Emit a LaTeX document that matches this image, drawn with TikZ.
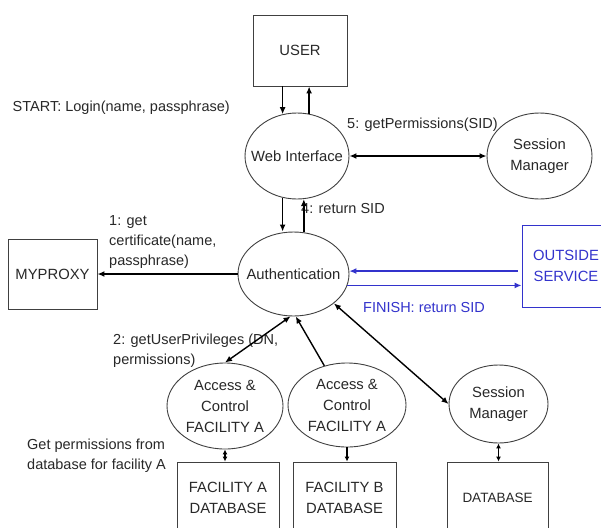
\documentclass[tikz,border=0pt]{standalone}
\usepackage{fontspec}
\setmainfont{Liberation Sans}
\usetikzlibrary{arrows.meta,shapes.geometric}
\definecolor{svcblue}{RGB}{51,51,204}
\definecolor{inkgray}{RGB}{40,40,40}
\begin{document}
\begin{tikzpicture}[x=1pt,y=-1pt,
  every node/.style={font=\fontsize{14.8}{21}\selectfont, text=inkgray},
  box/.style={draw=black!75, line width=0.9pt, rectangle, inner sep=0pt, align=center},
  ell/.style={draw=black!75, line width=0.9pt, ellipse, inner sep=0pt},
  txt/.style={inner sep=0pt, align=left, font=\fontsize{14.5}{20}\selectfont},
  ctext/.style={inner sep=0pt, align=center},
  arr/.style={-{Latex[length=7pt,width=6pt]}, line width=1.4pt},
  sarr/.style={-{Latex[length=5pt,width=5pt]}, line width=1.4pt},
  darr/.style={{Latex[length=7pt,width=6pt]}-{Latex[length=7pt,width=6pt]}, line width=1.4pt},
  sdarr/.style={{Latex[length=5pt,width=5pt]}-{Latex[length=5pt,width=5pt]}, line width=1.4pt},
  barr/.style={-{Latex[length=7pt,width=6pt]}, line width=1.4pt, draw=svcblue},
]
\clip (0,0) rectangle (601,527);
\fill[white] (0,0) rectangle (601,527);

% shapes
\node[box, minimum width=94pt, minimum height=71pt] (user) at (300,50.5) {USER};
\node[ell, minimum width=104pt, minimum height=86pt, label={[ctext]center:Web Interface}] (web) at (297,156) {};
\node[ell, minimum width=105pt, minimum height=86pt, label={[ctext]center:{Session\\Manager}}] (sm1) at (539.5,156) {};
\node[ell, minimum width=111pt, minimum height=84pt, label={[ctext]center:Authentication}] (auth) at (293.5,274) {};
\node[box, minimum width=89pt, minimum height=70pt] (myproxy) at (52.5,274) {MYPROXY};
\node[box, draw=svcblue, text=svcblue, minimum width=88pt, minimum height=82pt] (outside) at (566,266) {OUTSIDE\\SERVICE};
\node[ell, minimum width=116pt, minimum height=86pt, label={[ctext]center:{Access \&\\Control\\FACILITY A}}] (acc1) at (225,406) {};
\node[ell, minimum width=118pt, minimum height=84pt, label={[ctext]center:{Access \&\\Control\\FACILITY A}}] (acc2) at (347,405) {};
\node[ell, minimum width=99pt, minimum height=78pt, label={[ctext]center:{Session\\Manager}}] (sm2) at (498.5,404) {};
\node[box, minimum width=102pt, minimum height=72pt] (fadb) at (228,498) {FACILITY A\\DATABASE};
\node[box, minimum width=103pt, minimum height=72pt] (fbdb) at (344.5,498) {FACILITY B\\DATABASE};
\node[box, minimum width=101pt, minimum height=72pt, font=\fontsize{13.5}{18}\selectfont] (db) at (497.5,498) {DATABASE};

% labels
\node[txt, anchor=base west] (lstart) at (12.5,111) {START: Login(name, passphrase)};
\node[txt, anchor=base west] (l5) at (347,128) {5: getPermissions(SID)};
\node[txt, anchor=base west] (l4) at (301,213) {4: return SID};
\node[txt, anchor=north west] (l1) at (109,215) {1: get\\certificate(name,\\passphrase)};
\node[txt, anchor=north west] (l2) at (113,334) {2: getUserPrivileges (DN,\\permissions)};
\node[txt, anchor=base west, text=svcblue] (lfin) at (363,312) {FINISH: return SID};
\node[txt, anchor=north west] (lget) at (27,439) {Get permissions from\\database for facility A};

% connectors
\draw[arr] (web.109 |- user.south) -- (web.109);
\draw[arr] (web.74) -- (web.74 |- user.south);
\draw[darr] (web.east) -- (sm1.west);
\draw[arr] (web.251) -- (web.251 |- auth.north);
\draw[arr] (web.279 |- auth.north) -- (web.279);
\draw[arr] (auth.west) -- (myproxy.east);
\draw[barr] ([xshift=-4pt]outside.west |- auth.3) -- (auth.3);
\draw[barr] (auth.-12) -- (auth.-12 -| outside.west);
\draw[darr] (acc1.north) -- (auth.266);
\draw[arr] (acc2.120) -- (auth.273);
\draw[darr] (auth.-36) -- (sm2.west);
\draw[sdarr] (acc1.south) -- (acc1.south |- fadb.north);
\draw[sarr] (acc2.south) -- (acc2.south |- fbdb.north);
\draw[sdarr] (sm2.south) -- (sm2.south |- db.north);
\end{tikzpicture}
\end{document}
